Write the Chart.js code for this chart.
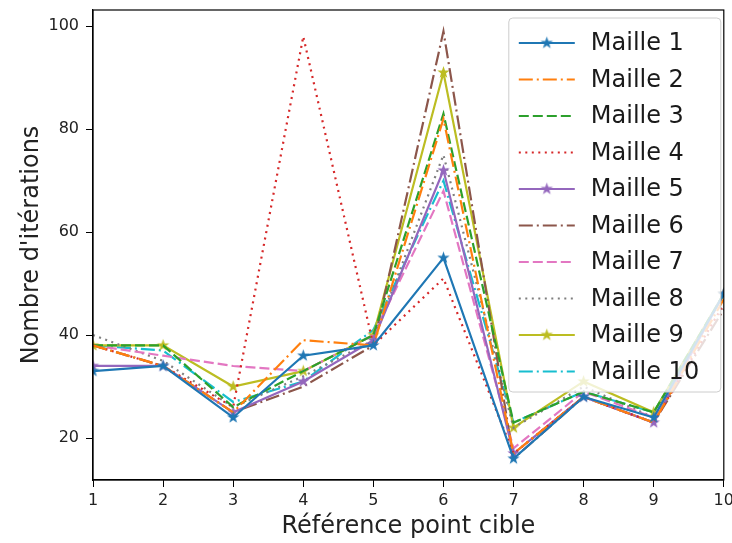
<!DOCTYPE html>
<html>
<head>
<meta charset="utf-8">
<script src="https://cdn.jsdelivr.net/npm/chart.js@4/dist/chart.umd.min.js"></script>
<style>
  body { margin: 0; background: #fff; }
  #wrap { width: 732px; height: 543px; }
</style>
</head>
<body>
<div id="wrap"><canvas id="lineChart" width="732" height="543"></canvas></div>
<script>
const points = [1, 2, 3, 4, 5, 6, 7, 8, 9, 10];
const yTicks = [20, 40, 60, 80, 100];
const names = ['Maille 1', 'Maille 2', 'Maille 3', 'Maille 4', 'Maille 5',
  'Maille 6', 'Maille 7', 'Maille 8', 'Maille 9', 'Maille 10'];

const maille1 = [33, 34, 24, 36, 38, 55, 16, 28, 24, 48];
const maille2 = [38, 34, 25, 39, 38, 82, 17, 28, 23, 47];
const maille3 = [38, 38, 26, 33, 40, 83, 23, 29, 25, 48];
const maille4 = [38, 34, 26, 98, 38, 51, 17, 28, 23, 46];
const maille5 = [34, 34, 25, 31, 39, 72, 17, 28, 23, 48];
const maille6 = [38, 34, 25, 30, 38, 99, 16, 28, 23, 45];
const maille7 = [38, 36, 34, 33, 40, 68, 18, 29, 24, 48];
const maille8 = [40, 35, 26, 32, 39, 75, 22, 30, 24, 48];
const maille9 = [38, 38, 30, 33, 40, 91, 22, 31, 25, 48];
const maille10 = [38, 37, 27, 31, 41, 70, 23, 29, 25, 48];

const colors = ['#1f77b4', '#ff7f0e', '#2ca02c', '#d62728', '#9467bd',
  '#8c564b', '#e377c2', '#7f7f7f', '#bcbd22', '#17becf'];
const styles = ['star', 'dashdot', 'dashed', 'dotted', 'star',
  'dashdot', 'dashed', 'dotted', 'star', 'dashdot'];
const series = [maille1, maille2, maille3, maille4, maille5,
  maille6, maille7, maille8, maille9, maille10];

const dashes = { star: [], dashed: [10, 4], dashdot: [14, 4, 2, 4], dotted: [2, 4.5] };

// filled star marker like matplotlib '*'
function starImage(color, r) {
  const c = document.createElement('canvas');
  const s = Math.ceil(r * 2 + 2);
  c.width = s; c.height = s;
  const g = c.getContext('2d');
  g.beginPath();
  for (let i = 0; i < 10; i++) {
    const rad = i % 2 === 0 ? r : r * 0.4;
    const a = -Math.PI / 2 + i * Math.PI / 5;
    const px = s / 2 + rad * Math.cos(a);
    const py = s / 2 + rad * Math.sin(a);
    if (i === 0) g.moveTo(px, py); else g.lineTo(px, py);
  }
  g.closePath();
  g.fillStyle = color;
  g.fill();
  return c;
}

const datasets = series.map((vals, i) => {
  const st = styles[i];
  return {
    label: names[i],
    data: vals.map((v, j) => ({ x: points[j], y: v })),
    borderColor: colors[i],
    backgroundColor: colors[i],
    borderWidth: 2.2,
    borderDash: dashes[st],
    pointStyle: st === 'star' ? starImage(colors[i], 6.5) : false,
    pointRadius: st === 'star' ? 6 : 0,
    tension: 0,
    fill: false,
  };
});

// legend drawn inside the plot, upper right
const innerLegend = {
  id: 'innerLegend',
  afterDatasetsDraw(chart) {
    const ctx = chart.ctx;
    const area = chart.chartArea;
    const boxW = 212, boxH = 374;
    const bx = area.right - boxW - 3, by = area.top + 8;
    ctx.save();
    ctx.fillStyle = 'rgba(255,255,255,0.8)';
    ctx.strokeStyle = '#cccccc';
    ctx.lineWidth = 1;
    ctx.beginPath();
    ctx.roundRect(bx, by, boxW, boxH, 4);
    ctx.fill();
    ctx.stroke();
    ctx.font = '24px "DejaVu Sans"';
    ctx.textBaseline = 'middle';
    chart.data.datasets.forEach((ds, i) => {
      const ly = by + 25 + i * 36.5;
      ctx.strokeStyle = ds.borderColor;
      ctx.lineWidth = 2.2;
      ctx.setLineDash(ds.borderDash);
      ctx.beginPath();
      ctx.moveTo(bx + 10, ly);
      ctx.lineTo(bx + 66, ly);
      ctx.stroke();
      ctx.setLineDash([]);
      if (ds.pointStyle) {
        const img = ds.pointStyle;
        ctx.drawImage(img, bx + 38 - img.width / 2, ly - img.height / 2);
      }
      ctx.fillStyle = '#1a1a1a';
      ctx.fillText(ds.label, bx + 82, ly + 1);
    });
    ctx.restore();
  }
};

// full black frame around the plot area
const frame = {
  id: 'frame',
  afterDraw(chart) {
    const { left, right, top, bottom } = chart.chartArea;
    const ctx = chart.ctx;
    ctx.save();
    ctx.strokeStyle = '#000';
    ctx.lineWidth = 1.2;
    ctx.strokeRect(left, top, right - left, bottom - top);
    ctx.restore();
  }
};

new Chart(document.getElementById('lineChart').getContext('2d'), {
  type: 'line',
  data: { datasets: datasets },
  plugins: [innerLegend, frame],
  options: {
    responsive: false,
    animation: false,
    layout: { padding: { top: 10, right: 7, left: 13, bottom: 0 } },
    plugins: { legend: { display: false }, tooltip: { enabled: false } },
    scales: {
      x: {
        type: 'linear',
        min: 1,
        max: 10,
        afterBuildTicks: (scale) => { scale.ticks = points.map(v => ({ value: v })); },
        afterFit: (scale) => {
          scale.height = 63;
          scale.paddingLeft = 0;
          scale.paddingRight = 0;
        },
        grid: { display: true, drawOnChartArea: false, drawTicks: true, tickLength: 7, color: '#000' },
        border: { color: '#000', width: 1.2 },
        ticks: { color: '#222', font: { family: 'DejaVu Sans', size: 16 }, padding: 4, maxRotation: 0 },
        title: { display: true, text: 'Référence point cible', color: '#222',
          font: { family: 'DejaVu Sans', size: 24 }, padding: { top: 0, bottom: 2 } },
      },
      y: {
        min: 11.85,
        max: 103.15,
        afterBuildTicks: (scale) => { scale.ticks = yTicks.map(v => ({ value: v })); },
        afterFit: (scale) => {
          scale.width = 80;
          scale.paddingTop = 0;
          scale.paddingBottom = 0;
        },
        grid: { display: true, drawOnChartArea: false, drawTicks: true, tickLength: 7, color: '#000' },
        border: { color: '#000', width: 1.2 },
        ticks: { color: '#222', font: { family: 'DejaVu Sans', size: 16 }, padding: 7 },
        title: { display: true, text: "Nombre d'itérations", color: '#222',
          font: { family: 'DejaVu Sans', size: 24 }, padding: { bottom: 8 } },
      },
    },
  },
});
</script>
</body>
</html>
